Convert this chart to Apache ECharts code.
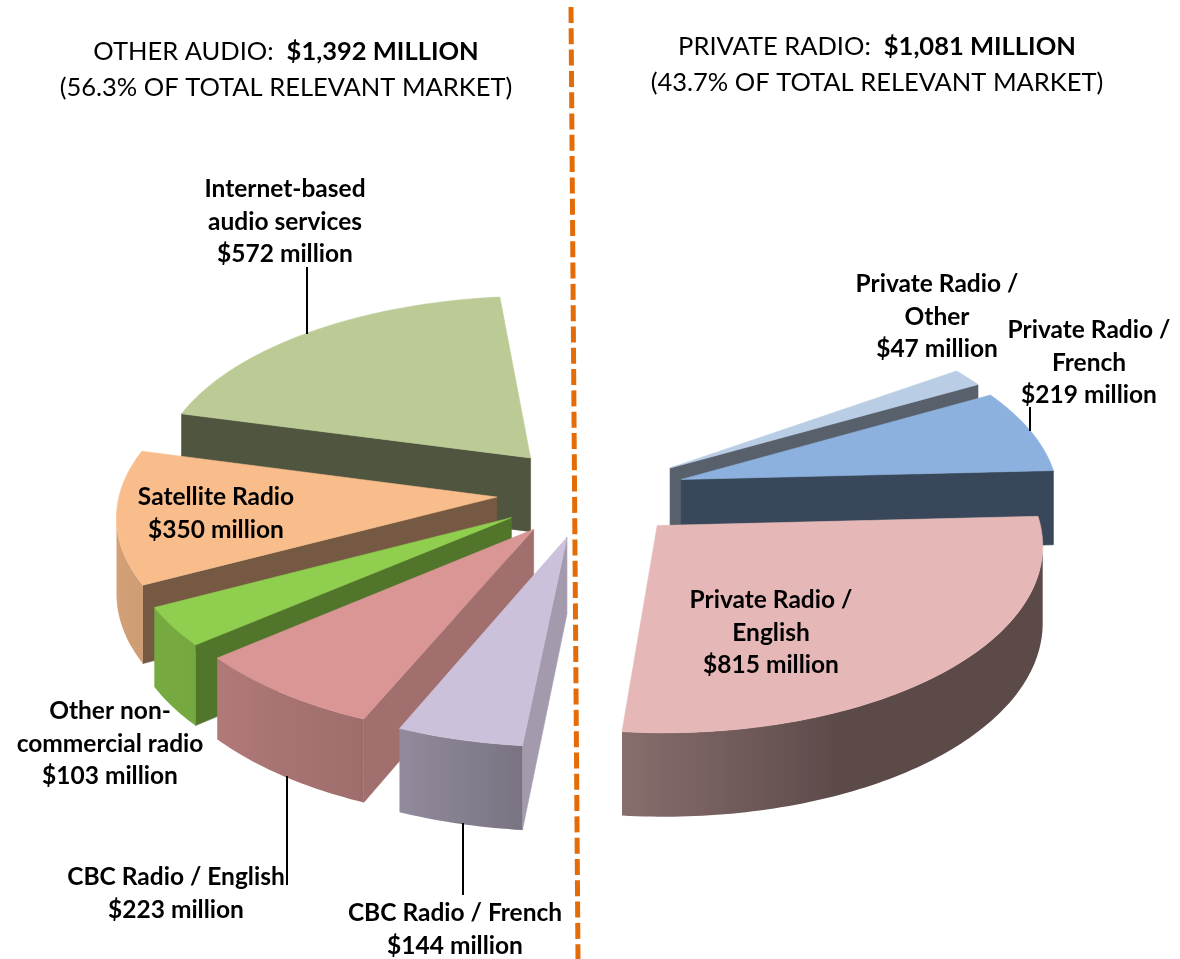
<!DOCTYPE html>
<html>
<head>
<meta charset="utf-8">
<style>html,body{margin:0;padding:0;background:#fff}#chart{width:1180px;height:959px}</style>
<script src="https://cdn.jsdelivr.net/npm/echarts@6/dist/echarts.min.js"></script>
</head>
<body>
<div id="chart"></div>
<script>
// Canadian audio market revenue, in $ million, clockwise from the back of the pie.
const segments = ['Private Radio / Other', 'Private Radio / French', 'Private Radio / English',
  'CBC Radio / French', 'CBC Radio / English', 'Other non-commercial radio', 'Satellite Radio', 'Internet-based audio services'];
const revenue = [47, 219, 815, 144, 223, 103, 350, 572];

const topColors = ['#b9cde4', '#8db1de', '#e5b8b7', '#ccc1da', '#d99694', '#8fce4e', '#f9bd8c', '#bccb95'];
const sideShade = [0.47, 0.40, 0.40, 0.80, 0.74, 0.57, 0.47, 0.42];

const headlines = [
  { lead: 'OTHER AUDIO:  ', amount: '$1,392 MILLION', share: '(56.3% OF TOTAL RELEVANT MARKET)', x: 286, y: 52 },
  { lead: 'PRIVATE RADIO:  ', amount: '$1,081 MILLION', share: '(43.7% OF TOTAL RELEVANT MARKET)', x: 877, y: 47 }
];

// Wrapped label text for each segment, in the same order as revenue.
const labelLines = [
  ['Private Radio /', 'Other'], ['Private Radio /', 'French'], ['Private Radio /', 'English'],
  ['CBC Radio / French'], ['CBC Radio / English'], ['Other non-', 'commercial radio'],
  ['Satellite Radio'], ['Internet-based', 'audio services']
];
const labelAnchors = [[937, 284], [1089, 330], [771, 600], [455, 913], [176, 877], [110, 711], [216, 497], [285, 189]];
const leaders = [[307, 267, 307, 334], [1030, 407, 1030, 431], [287, 776, 287, 885], [463, 823, 463, 895]];

// Pie projection settings.
const pie = { cx: 591, cy: 492, radius: 377, explode: 94.5, height: 75, startDeg: 55, sweepDeg: 299, tilt: 0.483, perspective: 0.09 };
const total = revenue.reduce((a, b) => a + b, 0);

function project(X, Y, drop) {
  const s = 1 / (1 - pie.perspective * Y / pie.radius);
  return [pie.cx + X * s, pie.cy + Y * pie.tilt * s + drop * s];
}

// Brightness of the outer wall by compass angle: dark on the right, lit toward the left.
function rimShade(deg) {
  const stops = [[140, 0.40], [155, 0.40], [185, 0.59], [206, 0.74], [233, 0.82], [260, 0.85], [300, 0.85]];
  if (deg <= stops[0][0]) return stops[0][1];
  for (let k = 1; k < stops.length; k++) {
    if (deg <= stops[k][0]) {
      const t = (deg - stops[k - 1][0]) / (stops[k][0] - stops[k - 1][0]);
      return stops[k - 1][1] + t * (stops[k][1] - stops[k - 1][1]);
    }
  }
  return 0.85;
}
function shade(hex, f) {
  const n = parseInt(hex.slice(1), 16);
  return 'rgb(' + [(n >> 16) & 255, (n >> 8) & 255, n & 255].map(c => Math.round(c * f)).join(',') + ')';
}
function signedArea(p) {
  let a = 0;
  for (let i = 0; i < p.length; i++) {
    const q = p[(i + 1) % p.length];
    a += p[i][0] * q[1] - q[0] * p[i][1];
  }
  return a;
}

const sliceStart = [];
revenue.reduce((acc, v, i) => { sliceStart[i] = acc; return acc + v; }, 0);

// Back slices are painted first.
const paintRank = revenue.map((v, i) => {
  const mid = pie.startDeg + (sliceStart[i] + v / 2) / total * pie.sweepDeg;
  return [-Math.cos(mid * Math.PI / 180), i];
}).sort((a, b) => a[0] - b[0]).reduce((m, e, r) => { m[e[1]] = r; return m; }, {});

function renderSlice(params, api) {
  const i = params.dataIndex;
  const value = api.value(0);
  const d0 = pie.startDeg + sliceStart[i] / total * pie.sweepDeg;
  const sweep = value / total * pie.sweepDeg;
  const mid = (d0 + sweep / 2) * Math.PI / 180;
  const ox = pie.explode * Math.sin(mid), oy = -pie.explode * Math.cos(mid);
  const steps = Math.max(6, Math.ceil(sweep));
  const rim = [];
  for (let k = 0; k <= steps; k++) {
    const a = (d0 + sweep * k / steps) * Math.PI / 180;
    rim.push([ox + pie.radius * Math.sin(a), oy - pie.radius * Math.cos(a), d0 + sweep * k / steps]);
  }
  const children = [];
  let order = 0;
  const rank = paintRank[i] * 1000;
  const face = (pts, fill, stroke) => {
    children.push({
      type: 'polygon', z2: rank + order++,
      shape: { points: pts },
      style: { fill, stroke: stroke || fill, lineWidth: stroke === 'none' ? 0 : 0.6 }
    });
  };
  const quad = (a, b) => [project(a[0], a[1], 0), project(b[0], b[1], 0),
                          project(b[0], b[1], pie.height), project(a[0], a[1], pie.height)];
  const apex = [ox, oy];
  const sideColor = shade(topColors[i], sideShade[i]);
  [[apex, rim[0]], [rim[steps], apex]].forEach(e => {
    const q = quad(e[0], e[1]);
    if (signedArea(q) < 0) face(q, sideColor);
  });

  // Outer wall: the viewer-facing stretch of rim, as one shape with a left-to-right gradient.
  const facing = [];
  for (let k = 0; k < steps; k++) {
    if (signedArea(quad(rim[k], rim[k + 1])) < 0) {
      if (!facing.length) facing.push(rim[k]);
      facing.push(rim[k + 1]);
    }
  }
  if (facing.length) {
    const upper = facing.map(p => project(p[0], p[1], 0));
    const lower = facing.map(p => project(p[0], p[1], pie.height));
    const outline = upper.concat(lower.slice().reverse());
    const xs = outline.map(p => p[0]);
    const minX = Math.min.apply(null, xs), maxX = Math.max.apply(null, xs);
    const colorStops = facing.map((p, k) => ({
      offset: (upper[k][0] - minX) / (maxX - minX),
      color: shade(topColors[i], rimShade(p[2]))
    })).sort((a, b) => a.offset - b.offset);
    face(outline, { type: 'linear', x: 0, y: 0, x2: 1, y2: 0, colorStops }, 'none');
  }
  face([project(ox, oy, 0)].concat(rim.map(p => project(p[0], p[1], 0))), topColors[i]);
  return { type: 'group', children };
}

const fontFamily = 'Lato, "Open Sans", sans-serif';
const overlay = [];

overlay.push({
  type: 'line', z: 50,
  shape: { x1: 571, y1: 7, x2: 578, y2: 959 },
  style: { stroke: '#e36c09', lineWidth: 5, lineDash: [16, 5.3] }
});
headlines.forEach(h => {
  overlay.push({
    type: 'text', z: 60, x: h.x, y: h.y,
    style: {
      text: '{a|' + h.lead + '}{b|' + h.amount + '}',
      align: 'center', verticalAlign: 'middle',
      rich: {
        a: { font: '25.5px ' + fontFamily, fill: '#000' },
        b: { font: 'bold 25.5px ' + fontFamily, fill: '#000' }
      }
    }
  });
  overlay.push({
    type: 'text', z: 60, x: h.x, y: h.y + 35.5,
    style: { text: h.share, font: '25.5px ' + fontFamily, fill: '#000', align: 'center', verticalAlign: 'middle' }
  });
});
leaders.forEach(l => overlay.push({
  type: 'line', z: 55,
  shape: { x1: l[0], y1: l[1], x2: l[2], y2: l[3] },
  style: { stroke: '#000', lineWidth: 2 }
}));
segments.forEach((name, i) => {
  const lines = labelLines[i].concat(['$' + revenue[i] + ' million']);
  lines.forEach((line, n) => overlay.push({
    type: 'text', z: 60, x: labelAnchors[i][0], y: labelAnchors[i][1] + n * 32.6,
    style: { text: line, font: 'bold 24.5px ' + fontFamily, fill: '#000', align: 'center', verticalAlign: 'middle' }
  }));
});

const chart = echarts.init(document.getElementById('chart'), null, { renderer: 'canvas' });
chart.setOption({
  animation: false,
  backgroundColor: '#ffffff',
  series: [{
    type: 'custom',
    coordinateSystem: 'none',
    renderItem: renderSlice,
    silent: true,
    data: segments.map((name, i) => ({ name, value: [revenue[i]] }))
  }],
  graphic: { elements: overlay }
});
</script>
</body>
</html>
